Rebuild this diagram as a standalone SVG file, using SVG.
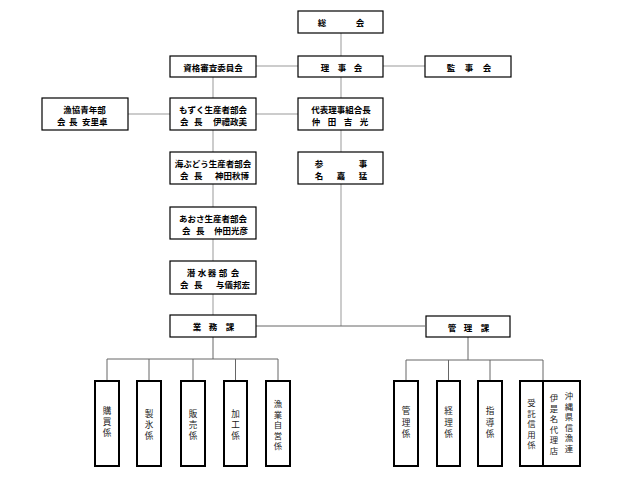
<svg xmlns="http://www.w3.org/2000/svg" width="640" height="477" viewBox="0 0 640 477">
<style>
.bx{fill:#fff;stroke:#000;stroke-width:1.2}
.vb{fill:#fff;stroke:#000;stroke-width:2}
.c1{stroke:#999;stroke-width:1;fill:none}
.c2{stroke:#666;stroke-width:1;fill:none}
.t{font-family:"Noto Sans CJK JP","Noto Sans CJK SC",sans-serif;font-size:8.5px;font-weight:bold;fill:#000;dominant-baseline:central}
.m{text-anchor:middle}
.v{font-family:"Noto Sans CJK JP","Noto Sans CJK SC",sans-serif;font-size:8.6px;fill:#222;text-anchor:middle;dominant-baseline:central}
.s{font-size:8.4px}
</style>
<rect width="640" height="477" fill="#fff"/>
<g id="connectors">
<path class="c1" d="M341 33V56M256 66H298M383 66H425M213 77V98M341 77V98M128 114H170M256 114H298M213 130V315M341 130V152M341 184V326"/>
<path class="c2" d="M256 326H425M213 337V359M107 359H278M107 359V381M149 359V381M193 359V381M235.5 359V381M278 359V381M468 337V360M406 360H543M406 360V381M448.5 360V381M490 360V381M543 360V381"/>
</g>
<g id="sokai"><rect class="bx" x="298" y="11" width="85" height="22"/><text class="t m" x="322 360" y="22">総会</text></g>
<g id="rijikai"><rect class="bx" x="298" y="56" width="85" height="21"/><text class="t m" x="325 342 358" y="66.5">理事会</text></g>
<g id="shikaku"><rect class="bx" x="170" y="56" width="86" height="21"/><text class="t m" x="213" y="66.5">資格審査委員会</text></g>
<g id="kanjikai"><rect class="bx" x="425" y="56" width="86" height="21"/><text class="t m" x="451 469 487" y="66.5">監事会</text></g>
<g id="seinenbu"><rect class="bx" x="42" y="98" width="86" height="32"/><text class="t m" x="84.5" y="109">漁協青年部</text><text class="t" x="57 69 82" y="121">会長安里卓</text></g>
<g id="mozuku"><rect class="bx" x="170" y="98" width="86" height="32"/><text class="t m" x="213" y="109">もずく生産者部会</text><text class="t" x="180 194 213" y="121">会長伊禮政美</text></g>
<g id="kumiaicho"><rect class="bx" x="298" y="98" width="85" height="32"/><text class="t m" x="341" y="109">代表理事組合長</text><text class="t m" x="316 332 348 364" y="121">仲田吉光</text></g>
<g id="umibudo"><rect class="bx" x="170" y="152" width="86" height="32"/><text class="t m" x="213" y="163">海ぶどう生産者部会</text><text class="t" x="180 194 215" y="175">会長神田秋博</text></g>
<g id="sanji"><rect class="bx" x="298" y="152" width="85" height="32"/><text class="t m" x="319 363" y="163">参事</text><text class="t m" x="319 341 363" y="175">名嘉猛</text></g>
<g id="aosa"><rect class="bx" x="170" y="207" width="86" height="32"/><text class="t m" x="213" y="218">あおさ生産者部会</text><text class="t" x="182 196 214" y="230">会長仲田光彦</text></g>
<g id="sensuiki"><rect class="bx" x="170" y="261" width="86" height="33"/><text class="t m" x="191 202 212 223 235" y="272">潜水器部会</text><text class="t" x="180 194 216" y="284">会長与儀邦宏</text></g>
<g id="gyomuka"><rect class="bx" x="170" y="315" width="86" height="22"/><text class="t m" x="197 213 230" y="326">業務課</text></g>
<g id="kanrika"><rect class="bx" x="426" y="316" width="84" height="21"/><text class="t m" x="452 468 485" y="326.5">管理課</text></g>
<g id="kobai"><rect class="vb" x="95" y="381" width="24" height="85"/><text class="v" x="107" y="410">購</text><text class="v" x="107" y="421">買</text><text class="v" x="107" y="432">係</text></g>
<g id="seihyo"><rect class="vb" x="137" y="381" width="24" height="85"/><text class="v" x="149" y="413">製</text><text class="v" x="149" y="424">氷</text><text class="v" x="149" y="435">係</text></g>
<g id="hanbai"><rect class="vb" x="181" y="381" width="24" height="85"/><text class="v" x="193" y="413">販</text><text class="v" x="193" y="424">売</text><text class="v" x="193" y="435">係</text></g>
<g id="kako"><rect class="vb" x="224" y="381" width="23" height="85"/><text class="v" x="235.5" y="413">加</text><text class="v" x="235.5" y="424">工</text><text class="v" x="235.5" y="435">係</text></g>
<g id="jiei"><rect class="vb" x="266" y="381" width="24" height="85"/><text class="v s" x="278" y="403">漁</text><text class="v s" x="278" y="413.5">業</text><text class="v s" x="278" y="424">自</text><text class="v s" x="278" y="434.5">営</text><text class="v s" x="278" y="445">係</text></g>
<g id="kanri"><rect class="vb" x="394" y="381" width="24" height="85"/><text class="v" x="406" y="410">管</text><text class="v" x="406" y="421.5">理</text><text class="v" x="406" y="433">係</text></g>
<g id="keiri"><rect class="vb" x="437" y="381" width="23" height="85"/><text class="v" x="448.5" y="410">経</text><text class="v" x="448.5" y="421.5">理</text><text class="v" x="448.5" y="433">係</text></g>
<g id="shido"><rect class="vb" x="478" y="381" width="24" height="85"/><text class="v" x="490" y="410">指</text><text class="v" x="490" y="421.5">導</text><text class="v" x="490" y="433">係</text></g>
<g id="jutaku"><rect class="vb" x="520" y="381" width="23" height="85"/><text class="v s" x="531.5" y="402">受</text><text class="v s" x="531.5" y="412.5">託</text><text class="v s" x="531.5" y="423">信</text><text class="v s" x="531.5" y="433.5">用</text><text class="v s" x="531.5" y="444">係</text></g>
<g id="shingyoren"><rect class="vb" x="543" y="381" width="37" height="85"/><text class="v s" x="569" y="395">沖</text><text class="v s" x="569" y="405.5">縄</text><text class="v s" x="569" y="416">県</text><text class="v s" x="569" y="426.5">信</text><text class="v s" x="569" y="437">漁</text><text class="v s" x="569" y="447.5">連</text><text class="v s" x="554" y="397">伊</text><text class="v s" x="554" y="407.5">是</text><text class="v s" x="554" y="418">名</text><text class="v s" x="554" y="428.5">代</text><text class="v s" x="554" y="439">理</text><text class="v s" x="554" y="449.5">店</text></g>
</svg>
